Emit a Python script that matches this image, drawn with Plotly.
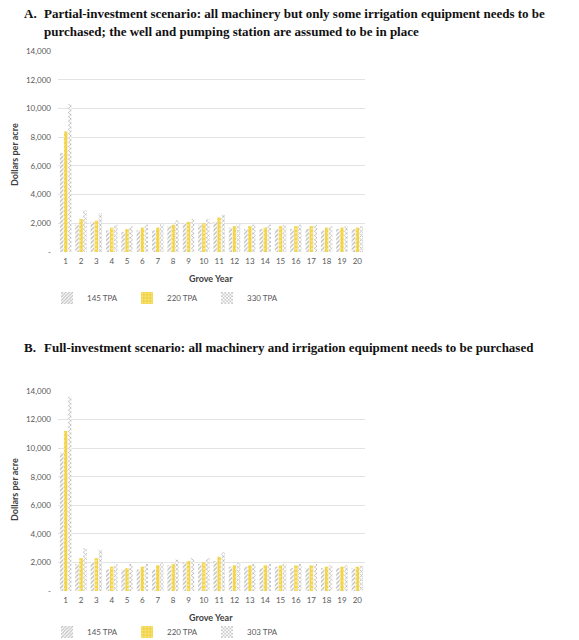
import plotly.graph_objects as go

years = [str(i) for i in range(1, 21)]

a_145 = [6900, 1900, 2100, 1500, 1400, 1500, 1500, 1800, 2000, 1900, 2100, 1700, 1600, 1600, 1600, 1600, 1600, 1500, 1600, 1600]
a_220 = [8400, 2300, 2200, 1700, 1600, 1700, 1700, 1900, 2100, 2000, 2400, 1800, 1800, 1700, 1800, 1800, 1800, 1700, 1700, 1700]
a_330 = [10300, 2900, 2700, 1900, 1800, 1900, 2000, 2200, 2300, 2300, 2600, 2000, 1900, 1900, 1900, 1900, 1900, 1800, 1800, 1800]

b_145 = [9700, 1900, 2000, 1500, 1500, 1500, 1500, 1800, 2000, 1900, 2100, 1700, 1700, 1600, 1700, 1600, 1600, 1600, 1600, 1600]
b_220 = [11200, 2300, 2300, 1700, 1600, 1700, 1800, 1900, 2100, 2000, 2400, 1800, 1800, 1800, 1800, 1800, 1800, 1700, 1700, 1700]
b_303 = [13600, 3000, 2900, 1900, 1900, 1900, 2000, 2200, 2300, 2300, 2700, 2000, 1900, 1900, 1900, 1900, 1900, 1800, 1800, 1800]

names_a = ["145 TPA", "220 TPA", "330 TPA"]
names_b = ["145 TPA", "220 TPA", "303 TPA"]

y_tickvals = [0, 2000, 4000, 6000, 8000, 10000, 12000, 14000]
y_ticktext = ["-", "2,000", "4,000", "6,000", "8,000", "10,000", "12,000", "14,000"]

title_a_1 = "Partial-investment scenario: all machinery but only some irrigation equipment needs to be"
title_a_2 = "purchased; the well and pumping station are assumed to be in place"
title_b = "Full-investment scenario: all machinery and irrigation equipment needs to be purchased"

W, H = 579, 640

def py(px):
    return 1 - px / H

def px_x(px):
    return px / W

styles = [
    dict(color="white", pattern=dict(shape="/", fgcolor="#7a7a7a", bgcolor="white", size=3, solidity=0.45)),
    dict(color="#F2D54C", pattern=dict(shape=".", fgcolor="#fff6c8", bgcolor="#F2D54C", size=4, solidity=0.25)),
    dict(color="white", pattern=dict(shape="x", fgcolor="#6f6f6f", bgcolor="white", size=3, solidity=0.45)),
]

fig = go.Figure()

for vals, name, st in zip([a_145, a_220, a_330], names_a, styles):
    fig.add_trace(go.Bar(x=years, y=vals, name=name, marker=dict(color=st["color"], pattern=st["pattern"], line=dict(width=0)),
                         xaxis="x", yaxis="y", legend="legend"))
for vals, name, st in zip([b_145, b_220, b_303], names_b, styles):
    fig.add_trace(go.Bar(x=years, y=vals, name=name, marker=dict(color=st["color"], pattern=st["pattern"], line=dict(width=0)),
                         xaxis="x2", yaxis="y2", legend="legend2"))

tickfont = dict(family="Lato, Noto Sans, sans-serif", size=8, color="#595959")
xdom = [px_x(58), px_x(365)]

axis_common_x = dict(domain=xdom, showgrid=False, showline=False, ticks="", tickfont=tickfont, tickangle=0,
                     ticklabelstandoff=3)
axis_common_y = dict(range=[0, 14000], tickvals=y_tickvals, ticktext=y_ticktext, showgrid=True,
                     gridcolor="#e3e3e3", gridwidth=1, zeroline=False, showline=False, ticks="",
                     tickfont=tickfont, ticklabelstandoff=6)

legend_font = dict(family="Lato, Noto Sans, sans-serif", size=8, color="#595959")
legend_common = dict(orientation="h", xref="container", yref="container", x=px_x(47),
                     xanchor="left", yanchor="middle", font=legend_font, entrywidth=35,
                     entrywidthmode="pixels", itemwidth=30, traceorder="normal",
                     bgcolor="rgba(0,0,0,0)", borderwidth=0)
fig.update_layout(
    width=W, height=H,
    margin=dict(l=0, r=0, t=0, b=0, autoexpand=False),
    paper_bgcolor="white", plot_bgcolor="white",
    barmode="group", bargap=0.22, bargroupgap=0.12,
    xaxis=dict(anchor="y", **axis_common_x),
    yaxis=dict(anchor="x", domain=[py(252), py(51)], **axis_common_y),
    xaxis2=dict(anchor="y2", **axis_common_x),
    yaxis2=dict(anchor="x2", domain=[py(591), py(391)], **axis_common_y),
    legend=dict(y=py(298), **legend_common),
    legend2=dict(y=py(632), **legend_common),
    showlegend=True,
)

serif = dict(family="Liberation Serif, Times New Roman, serif", size=13, color="#111111")
ann = [
    dict(text="<b>A.</b>", x=px_x(22), y=py(14), xanchor="left", yanchor="middle"),
    dict(text="<b>" + title_a_1 + "</b>", x=px_x(42), y=py(14), xanchor="left", yanchor="middle"),
    dict(text="<b>" + title_a_2 + "</b>", x=px_x(42), y=py(31), xanchor="left", yanchor="middle"),
    dict(text="<b>B.</b>", x=px_x(22), y=py(347), xanchor="left", yanchor="middle"),
    dict(text="<b>" + title_b + "</b>", x=px_x(42), y=py(347), xanchor="left", yanchor="middle"),
]
for a in ann:
    fig.add_annotation(xref="paper", yref="paper", showarrow=False, font=serif, **a)

lab_font = dict(family="Lato, Noto Sans, sans-serif", size=9, color="#404040")
for yc, yg in [(155, 278), (490, 617)]:
    fig.add_annotation(xref="paper", yref="paper", showarrow=False, text="<b>Dollars per acre</b>",
                       textangle=-90, x=px_x(14), y=py(yc), xanchor="center", yanchor="middle", font=lab_font)
    fig.add_annotation(xref="paper", yref="paper", showarrow=False, text="<b>Grove Year</b>",
                       x=px_x(211), y=py(yg), xanchor="center", yanchor="middle", font=lab_font)

post = ("document.documentElement.style.margin='0';document.body.style.margin='0';"
        "document.body.style.overflow='hidden';document.documentElement.style.overflow='hidden';")
fig.write_html("out.html", config={"displayModeBar": False}, post_script=post)
